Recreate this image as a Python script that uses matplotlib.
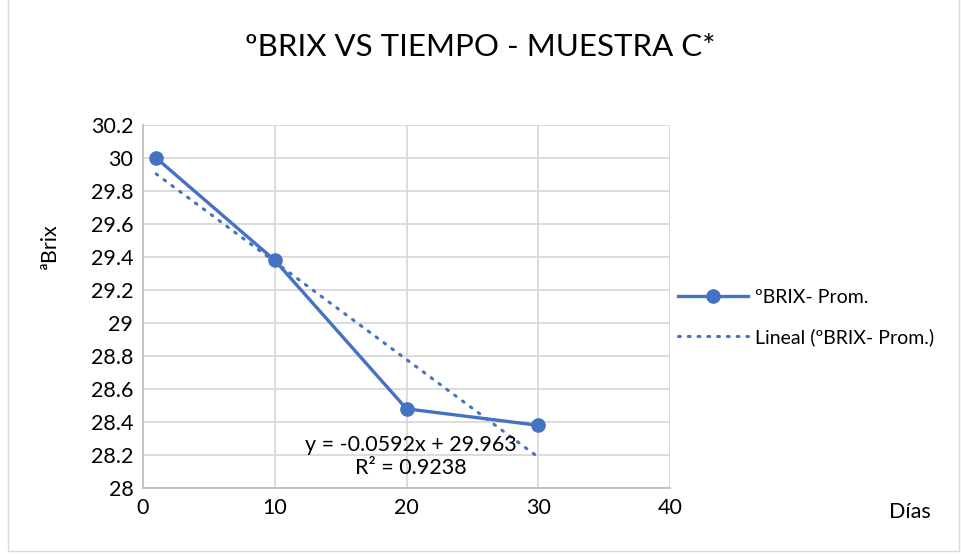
import numpy as np
import matplotlib
matplotlib.use("Agg")
from matplotlib import pyplot as plt
from matplotlib.patches import Rectangle
from matplotlib.lines import Line2D

plt.rcParams['font.family'] = ['Lato', 'DejaVu Sans']

# Data
dias = [1, 10, 20, 30]
brix = [30.0, 29.38, 28.48, 28.38]
x_ticks = [0, 10, 20, 30, 40]
y_ticks = [28, 28.2, 28.4, 28.6, 28.8, 29, 29.2, 29.4, 29.6, 29.8, 30, 30.2]

blue = '#4472C4'
grid_gray = '#D9D9D9'
text_col = '#000000'
fs = 15.5

fig = plt.figure(figsize=(9.61, 5.54), dpi=100)
ax = fig.add_axes([0.1488, 0.1191, 0.5484, 0.6553])

# outer chart frame
fig.patches.append(Rectangle((0.008, 0.006), 0.99, 1.2, transform=fig.transFigure,
                             fill=False, ec=grid_gray, lw=1.0))

ax.plot(dias, brix, color=blue, lw=2.4, marker='o', ms=9.5, zorder=4)

# linear trend line
slope, intercept = np.polyfit(dias, brix, 1)
xt = np.array([dias[0], dias[-1]])
ax.plot(xt, slope * xt + intercept, color=blue, lw=2.2,
        linestyle=(0, (0.6, 2.6)), dash_capstyle='round', zorder=3)

ax.set_xlim(0, 40)
ax.set_ylim(28, 30.2)
ax.set_xticks(x_ticks)
ax.set_yticks(y_ticks)
ax.set_yticklabels([f'{v:g}' for v in y_ticks])
ax.tick_params(length=0, labelsize=fs, pad=7, colors=text_col)
ax.grid(True, color=grid_gray, lw=1.3)
ax.set_axisbelow(True)
for s in ['top', 'right']:
    ax.spines[s].set_visible(False)
for s in ['left', 'bottom']:
    ax.spines[s].set_color('#BFBFBF')
    ax.spines[s].set_linewidth(1.3)

fig.text(0.5, 0.915, 'ºBRIX VS TIEMPO - MUESTRA C*', ha='center', va='center', fontsize=22.5)
fig.text(0.052, 0.555, 'ªBrix', rotation=90, ha='center', va='center', fontsize=fs)
fig.text(0.947, 0.076, 'Días', ha='center', va='center', fontsize=fs)

ax.text(20.3, 28.19, f'y = {slope:.4f}x + {intercept:.3f}\nR² = 0.9238',
        ha='center', va='center', fontsize=fs, linespacing=1.15)

handles = [
    Line2D([], [], color=blue, lw=2.4, marker='o', ms=9.5),
    Line2D([], [], color=blue, lw=2.2, linestyle=(0, (0.6, 2.6)), dash_capstyle='round'),
]
fig.legend(handles, ['ºBRIX- Prom.', 'Lineal (ºBRIX- Prom.)'], loc='center left',
           bbox_to_anchor=(0.706, 0.427), frameon=False, fontsize=14,
           handlelength=3.6, labelspacing=1.15, handletextpad=0.35,
           borderpad=0, borderaxespad=0)

fig.savefig('out.png', dpi=100)
